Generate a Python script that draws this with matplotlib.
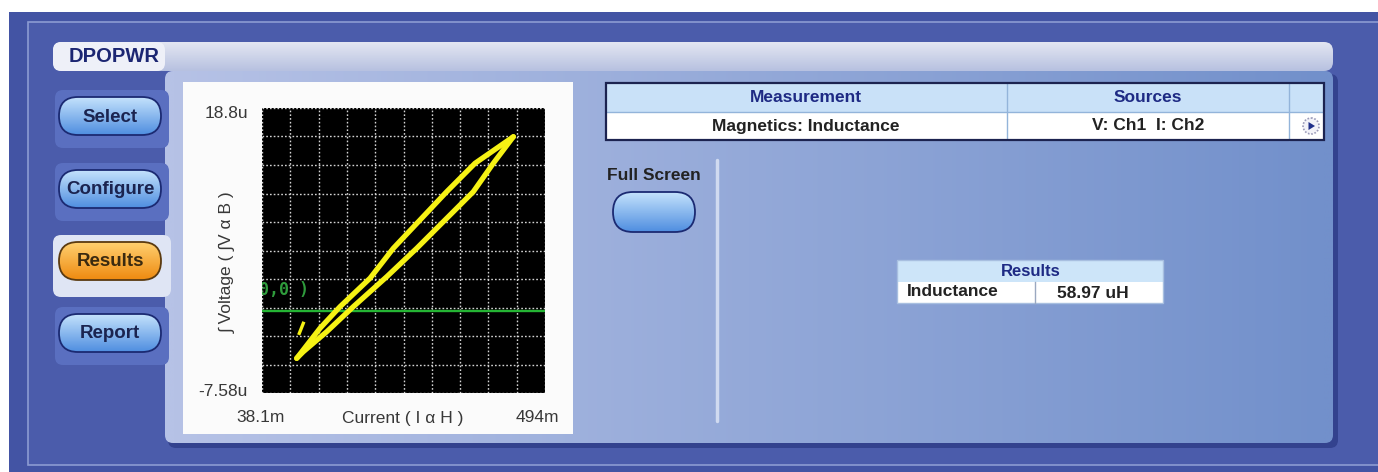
import numpy as np
import matplotlib
matplotlib.use("Agg")
import matplotlib.pyplot as plt
from matplotlib.patches import Rectangle, FancyBboxPatch, Circle, Polygon

x_min, x_max = 38.1, 494.0
y_min, y_max = -7.58, 18.8
x_labels = ["38.1m", "494m"]
y_labels = ["18.8u", "-7.58u"]

# branche montante (gauche) puis branche descendante (droite) de la boucle
rise_i = [94.0, 131.5, 163.8, 212.1, 249.6, 292.6, 335.6, 381.2, 443.0]
rise_v = [-4.37, -1.59, 0.41, 3.04, 5.81, 8.43, 11.05, 13.68, 16.14]
fall_i = [443.0, 410.7, 378.5, 332.9, 287.3, 239.0, 185.2, 142.3, 104.6, 94.0]
fall_v = [16.14, 13.68, 11.05, 8.43, 5.81, 3.18, 0.41, -1.91, -3.76, -4.37]
tick_i = [98.2, 104.6]
tick_v = [-2.06, -1.13]

tabs = ["Select", "Configure", "Results", "Report"]
tab_y = [116, 189, 261, 333]
active_tab = "Results"

meas_cols = ["Measurement", "Sources"]
meas_row = ["Magnetics: Inductance", "V: Ch1  I: Ch2"]
result_name = "Inductance"
result_value = "58.97 uH"

W, H = 1378, 472
SANS = "Liberation Sans"
fig = plt.figure(figsize=(W / 100, H / 100), dpi=100)
bg = fig.add_axes([0, 0, 1, 1])
bg.set_xlim(0, W)
bg.set_ylim(H, 0)
bg.axis("off")


def gradient(ax, x0, y0, x1, y1, c_top, c_bot, horiz=False, clip=None, z=1):
    a = np.array(matplotlib.colors.to_rgb(c_top))
    b = np.array(matplotlib.colors.to_rgb(c_bot))
    t = np.linspace(0, 1, 64)
    img = a[None, :] * (1 - t[:, None]) + b[None, :] * t[:, None]
    if horiz:
        img = img[None, :, :]
    else:
        img = img[:, None, :]
    im = ax.imshow(img, extent=(x0, x1, y1, y0), aspect="auto", zorder=z,
                   interpolation="bilinear")
    if clip is not None:
        im.set_clip_path(clip)
    return im


def pill(ax, cx, cy, w, h, c_top, c_bot, edge, z=5):
    p = FancyBboxPatch((cx - w / 2, cy - h / 2), w, h,
                       boxstyle="round,pad=0,rounding_size=%f" % (h / 2),
                       facecolor="none", edgecolor=edge, lw=1.3, zorder=z + 1)
    ax.add_patch(p)
    gradient(ax, cx - w / 2, cy - h / 2, cx + w / 2, cy + h / 2, c_top, c_bot,
             clip=p, z=z)


# cadre exterieur
bg.add_patch(Rectangle((9, 12), W - 9, H - 12, facecolor="#4354a4", lw=0, zorder=0))
bg.add_patch(Rectangle((28, 22), W, 443, facecolor="#4b5cab", edgecolor="#8c9bd2",
                       lw=1.2, zorder=0.5))

# barre d'en-tete + onglet
hdr = FancyBboxPatch((53, 42), 1280, 29, boxstyle="round,pad=0,rounding_size=9",
                     facecolor="none", lw=0, zorder=2)
bg.add_patch(hdr)
gradient(bg, 53, 42, 1333, 71, "#e3e6f2", "#b7c1e0", clip=hdr, z=1.5)
tab = FancyBboxPatch((53, 42), 112, 29, boxstyle="round,pad=0,rounding_size=8",
                     facecolor="#eef0f8", lw=0, zorder=2)
bg.add_patch(tab)
bg.text(69, 57, "DPOPWR", fontsize=14.5, fontweight="bold", color="#1c2672",
        va="center", ha="left", family=SANS, zorder=3)

# panneau principal (ombre + degrade)
bg.add_patch(FancyBboxPatch((168, 74), 1170, 374, boxstyle="round,pad=0,rounding_size=8",
                            facecolor="#33428e", lw=0, zorder=1.6))
panel = FancyBboxPatch((165, 71), 1168, 372, boxstyle="round,pad=0,rounding_size=8",
                       facecolor="none", lw=0, zorder=2)
bg.add_patch(panel)
gradient(bg, 165, 71, 1333, 443, "#b6c2e6", "#7290cb", horiz=True, clip=panel, z=1.8)

# onglets de gauche
for name, cy in zip(tabs, tab_y):
    if name == active_tab:
        bg.add_patch(FancyBboxPatch((53, cy - 26), 118, 62,
                                    boxstyle="round,pad=0,rounding_size=8",
                                    facecolor="#dfe5f4", lw=0, zorder=2.5))
        pill(bg, 110, cy, 102, 38, "#ffd070", "#ee8a10", "#5a3a10")
    else:
        bg.add_patch(FancyBboxPatch((55, cy - 26), 114, 58,
                                    boxstyle="round,pad=0,rounding_size=8",
                                    facecolor="#5a6fc0", lw=0, zorder=2.5))
        pill(bg, 110, cy, 102, 38, "#c4e2fc", "#4f8ee0", "#1b2a72")
    bg.text(110, cy + 1, name, fontsize=13.5, fontweight="bold", family=SANS,
            color="#3a2a10" if name == active_tab else "#1b2450",
            ha="center", va="center", zorder=8)

# panneau blanc du graphe
bg.add_patch(Rectangle((183, 82), 390, 352, facecolor="#fbfbfb", lw=0, zorder=3))
lab = dict(fontsize=12.5, color="#383838", family=SANS, zorder=4)
bg.text(248, 114, y_labels[0], ha="right", va="center", **lab)
bg.text(248, 391, y_labels[1], ha="right", va="center", **lab)
bg.text(261, 418, x_labels[0], ha="center", va="center", **lab)
bg.text(537, 418, x_labels[1], ha="center", va="center", **lab)
bg.text(403, 418, "Current ( I α H )", ha="center", va="center", **lab)
bg.text(228, 262, "∫ Voltage ( ∫V α B )", ha="center", va="center", rotation=90, **lab)

# axes du graphe
ax = fig.add_axes([262 / W, 1 - 393 / H, 283 / W, 285 / H], zorder=5)
ax.set_facecolor("black")
ax.set_xlim(x_min, x_max)
ax.set_ylim(y_min, y_max)
ax.set_xticks(np.linspace(x_min, x_max, 11))
ax.set_yticks(np.linspace(y_min, y_max, 11))
ax.tick_params(length=0, labelleft=False, labelbottom=False)
ax.grid(True, color="#d4d4d4", linestyle=(0, (1.2, 1.5)), lw=1.0)
for s in ax.spines.values():
    s.set_visible(False)
ax.axhline(0, color="#25b434", lw=1.7, zorder=3)
ax.text(-0.046, 0.36, "(0,0 )", transform=ax.transAxes, color="#2f9c3c",
        fontsize=12, fontweight="bold", family="DejaVu Sans Mono",
        va="center", ha="left", clip_on=True, zorder=3)
ax.plot(rise_i, rise_v, color="#f6f214", lw=3.8, solid_joinstyle="round",
        solid_capstyle="round", zorder=4)
ax.plot(fall_i, fall_v, color="#f6f214", lw=3.8, solid_joinstyle="round",
        solid_capstyle="round", zorder=4)
ax.plot(tick_i, tick_v, color="#f6f214", lw=2.4, zorder=4)

# tableau des mesures
bg.add_patch(Rectangle((606, 83), 718, 29, facecolor="#c9e1f8", lw=0, zorder=3))
bg.add_patch(Rectangle((606, 112), 718, 28, facecolor="white", lw=0, zorder=3))
for xv in (1007, 1289):
    bg.plot([xv, xv], [83, 140], color="#93b4da", lw=1, zorder=4)
bg.plot([606, 1324], [112, 112], color="#93b4da", lw=1, zorder=4)
bg.add_patch(Rectangle((606, 83), 718, 57, facecolor="none", edgecolor="#1c2350",
                       lw=1.6, zorder=5))
for cx, head, val in zip([806, 1148], meas_cols, meas_row):
    bg.text(cx, 98, head, fontsize=12.5, fontweight="bold", color="#1e2a84",
            family=SANS, ha="center", va="center", zorder=6)
    bg.text(cx, 126, val, fontsize=12.5, fontweight="bold", color="#222222",
            family=SANS, ha="center", va="center", zorder=6)
bg.add_patch(Circle((1311, 126), 8, facecolor="#f2f2f8", edgecolor="#9a9ab8",
                    lw=1.2, linestyle=(0, (1, 1)), zorder=6))
bg.add_patch(Polygon([[1308.5, 122], [1308.5, 130], [1315, 126]], closed=True,
                     facecolor="#20308a", lw=0, zorder=7))

# bouton plein ecran + separateur
bg.text(607, 175, "Full Screen", fontsize=12.5, fontweight="bold", color="#222222",
        family=SANS, ha="left", va="center", zorder=6)
pill(bg, 654, 212, 82, 40, "#c4e2fc", "#4f8ee0", "#1b2a72")
bg.plot([717, 717], [160, 421], color="#d0daf0", lw=2.5, solid_capstyle="round", zorder=4)

# tableau des resultats
bg.add_patch(Rectangle((897, 260), 266, 22, facecolor="#cde5f9", lw=0, zorder=3))
bg.add_patch(Rectangle((897, 282), 266, 21, facecolor="white", lw=0, zorder=3))
bg.add_patch(Rectangle((897, 260), 266, 43, facecolor="none", edgecolor="#a8bfe0",
                       lw=1, zorder=4))
bg.plot([1035, 1035], [282, 303], color="#9aa8c0", lw=1, zorder=4)
bg.text(1031, 271, "Results", fontsize=12, fontweight="bold", color="#1e2a84",
        family=SANS, ha="center", va="center", zorder=6)
bg.text(907, 292, result_name, fontsize=12.5, fontweight="bold", color="#222222",
        family=SANS, ha="left", va="center", zorder=6)
bg.text(1093, 293, result_value, fontsize=12.5, fontweight="bold", color="#222222",
        family=SANS, ha="center", va="center", zorder=6)

fig.savefig("out.png", dpi=100)
